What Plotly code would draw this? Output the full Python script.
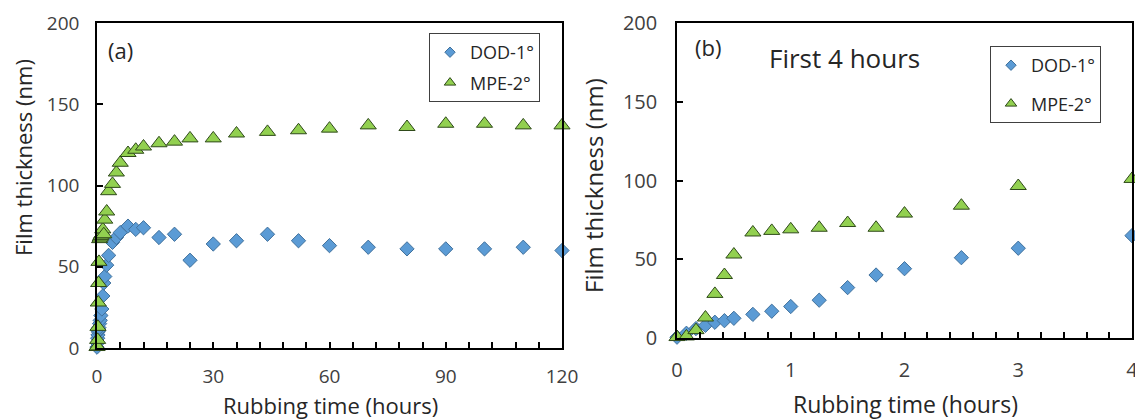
import plotly.graph_objects as go

# ---- data: panel (a), full run ----
t_a = [0, 0.083, 0.167, 0.25, 0.333, 0.417, 0.5, 0.667, 0.833, 1.0, 1.25, 1.5, 1.75, 2.0, 2.5, 3.0, 4.0,
       5, 6, 8, 10, 12, 16, 20, 24, 30, 36, 44, 52, 60, 70, 80, 90, 100, 110, 120]
dod_a = [0.5, 3, 6, 8, 10, 11, 12.5, 15, 17, 20, 24, 32, 40, 44, 51, 57, 65,
         68, 71, 75, 73, 74, 68, 70, 54, 64, 66, 70, 66, 63, 62, 61, 61, 61, 62, 60]
mpe_a = [0.6, 1, 5, 13, 28, 40, 53, 67, 68, 69, 70, 73, 70, 79, 84, 96.5, 101,
         108, 114, 120, 122, 124, 126, 127, 129, 129, 132, 133, 134, 135, 137, 136, 138, 138, 137, 137]

# ---- data: panel (b), first 4 hours ----
t_b = [0, 0.083, 0.167, 0.25, 0.333, 0.417, 0.5, 0.667, 0.833, 1.0, 1.25, 1.5, 1.75, 2.0, 2.5, 3.0, 4.0]
dod_b = [0.5, 3, 6, 8, 10, 11, 12.5, 15, 17, 20, 24, 32, 40, 44, 51, 57, 65]
mpe_b = [0.6, 1, 5, 13, 28, 40, 53, 67, 68, 69, 70, 73, 70, 79, 84, 96.5, 101]

names = ["DOD-1°", "MPE-2°"]
y_ticks = [0, 50, 100, 150, 200]
x_ticks_a = [0, 30, 60, 90, 120]
x_ticks_b = [0, 1, 2, 3, 4]

BLUE, BLUE_LINE = "#5B9BD5", "#41719C"
GREEN, GREEN_LINE = "#92D050", "#2F4A1A"
FONT = "Open Sans"
TICKCOL = "#404040"
TXT = "#262626"

fig = go.Figure()

def add_panel(t, dod, mpe, xa, ya, leg):
    fig.add_trace(go.Scatter(x=t, y=dod, mode="markers", xaxis=xa, yaxis=ya, showlegend=False,
                             cliponaxis=False,
                             marker=dict(symbol="diamond", size=11, color=BLUE,
                                         line=dict(color=BLUE_LINE, width=1))))
    fig.add_trace(go.Scatter(x=t, y=mpe, mode="markers", xaxis=xa, yaxis=ya, showlegend=False,
                             cliponaxis=False,
                             marker=dict(symbol="triangle-up", size=14, color=GREEN,
                                         line=dict(color=GREEN_LINE, width=1))))
    # legend entries
    fig.add_trace(go.Scatter(x=[None], y=[None], mode="markers", xaxis=xa, yaxis=ya, name=names[0],
                             legend=leg, legendgroup=leg + "d",
                             marker=dict(symbol="diamond", size=8, color=BLUE,
                                         line=dict(color=BLUE_LINE, width=1))))
    fig.add_trace(go.Scatter(x=[None], y=[None], mode="markers", xaxis=xa, yaxis=ya, name=names[1],
                             legend=leg, legendgroup=leg + "m",
                             marker=dict(symbol="triangle-up", size=10, color=GREEN,
                                         line=dict(color=GREEN_LINE, width=1))))

add_panel(t_a, dod_a, mpe_a, "x", "y", "legend")
add_panel(t_b, dod_b, mpe_b, "x2", "y2", "legend2")

W, H = 1135, 419
def px(x): return x / W
def py(y): return 1 - y / H

axis_common = dict(showline=True, mirror=True, linecolor="black", linewidth=1.5, showgrid=False,
                   zeroline=False, ticks="inside", ticklen=6, tickcolor="black", tickwidth=1.5,
                   automargin=False, ticklabeloverflow="allow")

fig.update_layout(
    width=W, height=H, margin=dict(l=0, r=0, t=0, b=0),
    paper_bgcolor="white", plot_bgcolor="white",
    xaxis=dict(domain=[px(97), px(562)], range=[0, 120], tickvals=x_ticks_a, anchor="y",
               minor=dict(ticks="inside", dtick=6, ticklen=6, tickcolor="black", tickwidth=1.5),
               ticklabelstandoff=10, tickfont=dict(family=FONT, size=19, color=TICKCOL), **axis_common),
    yaxis=dict(domain=[py(348), py(23)], range=[0, 200], tickvals=y_ticks, anchor="x",
               ticklabelstandoff=12, tickfont=dict(family=FONT, size=19, color=TICKCOL), **axis_common),
    xaxis2=dict(domain=[px(677), px(1132)], range=[0, 4], tickvals=x_ticks_b, anchor="y2",
                minor=dict(ticks="inside", dtick=0.2, ticklen=6, tickcolor="black", tickwidth=1.5),
                ticklabelstandoff=13, tickfont=dict(family=FONT, size=20, color=TICKCOL), **axis_common),
    yaxis2=dict(domain=[py(338), py(23)], range=[0, 200], tickvals=y_ticks, anchor="x2",
                ticklabelstandoff=14, tickfont=dict(family=FONT, size=20, color=TICKCOL), **axis_common),
    legend=dict(x=px(540), y=py(33), xanchor="right", yanchor="top", bgcolor="white",
                bordercolor="#404040", borderwidth=1, tracegroupgap=4,
                font=dict(family=FONT, size=18, color=TXT)),
    legend2=dict(x=px(1101), y=py(46), xanchor="right", yanchor="top", bgcolor="white",
                 bordercolor="#404040", borderwidth=1, tracegroupgap=12,
                 font=dict(family=FONT, size=18, color=TXT)),
)

ann = [
    dict(text="(a)", x=px(106), y=py(50), xanchor="left", yanchor="middle", font=dict(family=FONT, size=22, color=TXT)),
    dict(text="(b)", x=px(693), y=py(47), xanchor="left", yanchor="middle", font=dict(family=FONT, size=22, color=TXT)),
    dict(text="First 4 hours", x=px(767), y=py(58), xanchor="left", yanchor="middle", font=dict(family=FONT, size=26, color=TXT)),
    dict(text="Film thickness (nm)", x=px(23), y=py(158), textangle=-90, xanchor="center", yanchor="middle", font=dict(family=FONT, size=22, color=TXT)),
    dict(text="Film thickness (nm)", x=px(593), y=py(186), textangle=-90, xanchor="center", yanchor="middle", font=dict(family=FONT, size=24, color=TXT)),
    dict(text="Rubbing time (hours)", x=px(330), y=py(405), xanchor="center", yanchor="middle", font=dict(family=FONT, size=22, color=TXT)),
    dict(text="Rubbing time (hours)", x=px(905), y=py(404), xanchor="center", yanchor="middle", font=dict(family=FONT, size=23, color=TXT)),
]
for a in ann:
    a.update(xref="paper", yref="paper", showarrow=False)
fig.update_layout(annotations=ann)

fig.write_html("out.html", config={"displayModeBar": False},
               post_script="document.body.style.margin='0';document.body.style.overflow='hidden';"
                           "document.documentElement.style.overflow='hidden';")
